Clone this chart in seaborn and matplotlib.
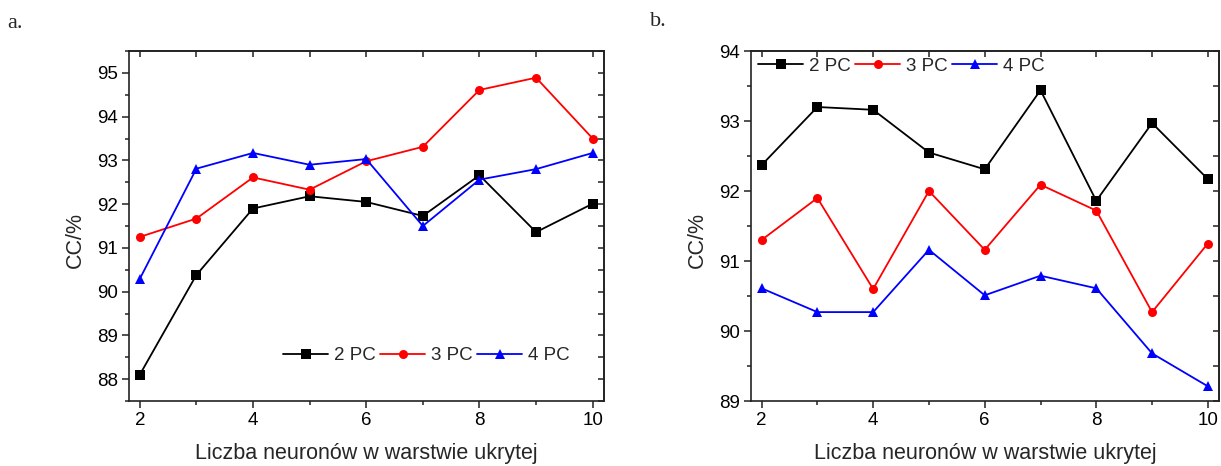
import matplotlib
matplotlib.use("Agg")
import matplotlib.pyplot as plt
from matplotlib.ticker import MultipleLocator
import seaborn as sns
import pandas as pd

# ---- data ----
neurons = [2, 3, 4, 5, 6, 7, 8, 9, 10]
series_names = ["2 PC", "3 PC", "4 PC"]

a_2pc = [88.10, 90.38, 91.90, 92.18, 92.05, 91.73, 92.66, 91.36, 92.01]
a_3pc = [91.25, 91.67, 92.61, 92.33, 92.98, 93.31, 94.61, 94.89, 93.50]
a_4pc = [90.29, 92.81, 93.17, 92.90, 93.03, 91.50, 92.56, 92.80, 93.17]

b_2pc = [92.37, 93.20, 93.16, 92.55, 92.31, 93.44, 91.86, 92.97, 92.17]
b_3pc = [91.30, 91.90, 90.60, 92.00, 91.16, 92.09, 91.72, 90.27, 91.25]
b_4pc = [90.61, 90.27, 90.27, 91.16, 90.51, 90.79, 90.61, 89.68, 89.21]

xlabel_text = "Liczba neuronów w warstwie ukrytej"
ylabel_text = "CC/%"
panel_labels = ["a.", "b."]

colors = {"2 PC": "#000000", "3 PC": "#FF0000", "4 PC": "#0000FF"}
markers = {"2 PC": "s", "3 PC": "o", "4 PC": "^"}


def long_df(s2, s3, s4):
    rows = []
    for name, vals in zip(series_names, [s2, s3, s4]):
        for n, v in zip(neurons, vals):
            rows.append({"n": n, "cc": v, "series": name})
    return pd.DataFrame(rows)


sns.set_style("ticks")
plt.rcParams["font.family"] = ["Liberation Sans", "DejaVu Sans"]

fig = plt.figure(figsize=(12.21, 4.66), dpi=100)
W, H = 1221, 466
ax_a = fig.add_axes([129 / W, 65 / H, 475 / W, 350 / H])
ax_b = fig.add_axes([751 / W, 65 / H, 468 / W, 350 / H])

TICK_FS = 13.5
LABEL_FS = 15.5
LEG_FS = 13.5


def draw(ax, df, ylim, ymajor, leg_anchor, leg_loc):
    sns.lineplot(data=df, x="n", y="cc", hue="series", style="series",
                 palette=colors, markers=markers, dashes=False,
                 linewidth=1.3, markersize=6.5, markeredgewidth=0, ax=ax)
    ax.set_xlim(1.81, 10.2)
    ax.set_ylim(*ylim)
    ax.xaxis.set_major_locator(MultipleLocator(2))
    ax.xaxis.set_minor_locator(MultipleLocator(1))
    ax.yaxis.set_major_locator(MultipleLocator(ymajor))
    ax.yaxis.set_minor_locator(MultipleLocator(ymajor / 2))
    ax.tick_params(which="major", direction="out", length=5, width=1.1,
                   labelsize=TICK_FS, pad=3, colors="#222222",
                   labelcolor="black")
    ax.tick_params(which="minor", direction="out", length=3, width=1.1,
                   colors="#222222")
    for sp in ax.spines.values():
        sp.set_visible(True)
        sp.set_linewidth(1.2)
        sp.set_color("#222222")
    # inward ticks on top/right
    top = ax.secondary_xaxis("top")
    top.xaxis.set_major_locator(MultipleLocator(2))
    top.xaxis.set_minor_locator(MultipleLocator(1))
    top.tick_params(which="both", direction="in", length=4, width=1.1,
                    labeltop=False, colors="#222222")
    right = ax.secondary_yaxis("right")
    right.yaxis.set_major_locator(MultipleLocator(ymajor))
    right.yaxis.set_minor_locator(MultipleLocator(ymajor / 2))
    right.tick_params(which="both", direction="in", length=4, width=1.1,
                      labelright=False, colors="#222222")
    for sec in (top, right):
        for sp in sec.spines.values():
            sp.set_linewidth(1.2)
            sp.set_color("#222222")
    ax.set_xlabel(xlabel_text, fontsize=LABEL_FS, labelpad=10)
    ax.set_ylabel(ylabel_text, fontsize=LABEL_FS, labelpad=8)
    ax.yaxis.label.set_y(0.46)
    h, l = ax.get_legend_handles_labels()
    ax.legend(h, l, loc=leg_loc, bbox_to_anchor=leg_anchor, ncol=3,
              frameon=False, fontsize=LEG_FS, handlelength=2.4,
              handletextpad=0.3, columnspacing=0.25, borderpad=0,
              borderaxespad=0)


draw(ax_a, long_df(a_2pc, a_3pc, a_4pc), (87.5, 95.5), 1,
     (0.325, 0.129), "center left")
draw(ax_b, long_df(b_2pc, b_3pc, b_4pc), (89, 94), 1,
     (0.015, 0.957), "center left")

fig.text(7 / W, 1 - 24 / H, panel_labels[0], fontsize=16,
         family=["Liberation Serif", "DejaVu Serif"], va="center", ha="left")
fig.text(650 / W, 1 - 22 / H, panel_labels[1], fontsize=16,
         family=["Liberation Serif", "DejaVu Serif"], va="center", ha="left")

fig.savefig("out.png", dpi=100)
